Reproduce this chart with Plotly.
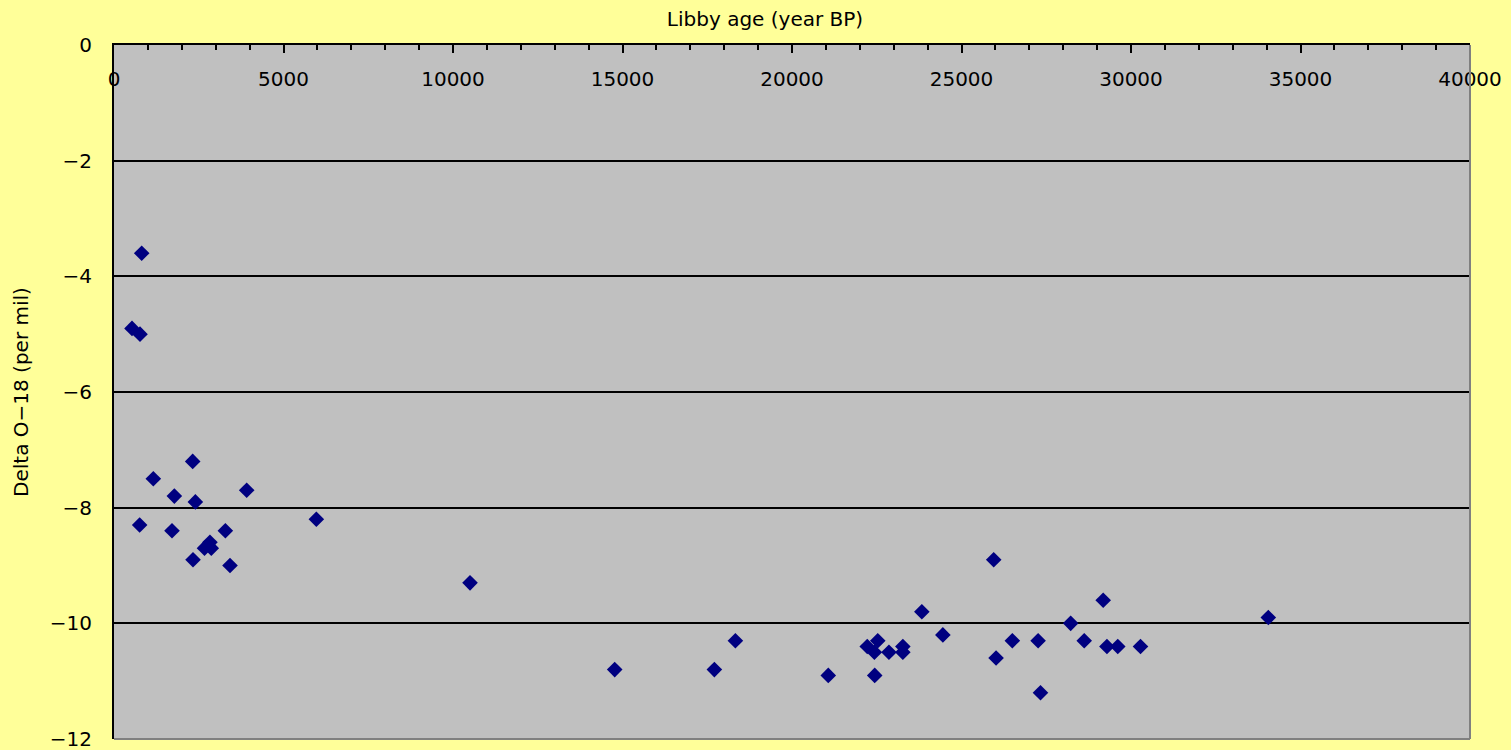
import plotly.graph_objects as go

libby_age = [531, 767, 817, 1160, 2321, 1780, 2400, 3914, 757, 1711, 3285, 5969,
             2670, 2830, 2870, 2331, 3422, 10502,
             14770, 17710, 18330, 21070, 23830, 24450,
             22220, 22530, 22430, 22860, 23270, 23270, 22440,
             25950, 29180, 28220, 26500, 27260, 28620, 26020, 29290, 29610, 30280,
             27330, 34050]
delta_o18 = [-4.9, -5.0, -3.6, -7.5, -7.2, -7.8, -7.9, -7.7, -8.3, -8.4, -8.4, -8.2,
             -8.7, -8.6, -8.7, -8.9, -9.0, -9.3,
             -10.8, -10.8, -10.3, -10.9, -9.8, -10.2,
             -10.4, -10.3, -10.5, -10.5, -10.4, -10.5, -10.9,
             -8.9, -9.6, -10.0, -10.3, -10.3, -10.3, -10.6, -10.4, -10.4, -10.4,
             -11.2, -9.9]

x_ticks = [0, 5000, 10000, 15000, 20000, 25000, 30000, 35000, 40000]
y_ticks = [0, -2, -4, -6, -8, -10, -12]
y_tick_text = ["0", "\u22122", "\u22124", "\u22126", "\u22128", "\u221210", "\u221212"]

FONT = "DejaVu Sans"

fig = go.Figure()
fig.add_trace(go.Scatter(
    x=libby_age, y=delta_o18, mode="markers",
    marker=dict(symbol="diamond", size=12, color="#000080",
                line=dict(width=0)),
    showlegend=False, cliponaxis=False,
))

fig.update_layout(
    width=1511, height=750,
    paper_bgcolor="#FFFF99", plot_bgcolor="#C0C0C0",
    margin=dict(l=114, r=41, t=45, b=11),
    font=dict(family=FONT, size=20, color="#000000"),
    title=dict(text="Libby age (year BP)", x=765 / 1511, xref="container",
               xanchor="center", y=1 - 19 / 750, yref="container",
               yanchor="middle",
               font=dict(family=FONT, size=20, color="#000000")),
    xaxis=dict(
        side="top", range=[0, 40000], tickvals=x_ticks,
        ticktext=[str(v) for v in x_ticks],
        ticks="inside", ticklen=8, tickwidth=2, tickcolor="#000000",
        ticklabelposition="inside", ticklabeloverflow="allow",
        ticklabelstandoff=20,
        minor=dict(dtick=1000, ticks="inside", ticklen=5, tickwidth=2,
                   tickcolor="#000000", showgrid=False),
        showgrid=False, zeroline=False,
        showline=True, linecolor="#000000", linewidth=2,
        automargin=False,
        tickfont=dict(family=FONT, size=20, color="#000000"),
    ),
    yaxis=dict(
        range=[-12, 0], tickvals=y_ticks, ticktext=y_tick_text,
        showgrid=True, gridcolor="#000000", gridwidth=2,
        zeroline=False, showline=True, linecolor="#000000", linewidth=2,
        ticks="", ticklabelstandoff=16, ticklabeloverflow="allow",
        title=dict(text="Delta O\u221218 (per mil)", standoff=16,
                   font=dict(family=FONT, size=20, color="#000000")),
        automargin=False,
        tickfont=dict(family=FONT, size=20, color="#000000"),
    ),
    shapes=[
        dict(type="line", xref="paper", yref="paper", x0=0, x1=1, y0=0, y1=0,
             line=dict(color="#808080", width=2), layer="above"),
        dict(type="line", xref="paper", yref="paper", x0=1, x1=1, y0=0, y1=1,
             line=dict(color="#808080", width=2), layer="above"),
    ],
)

fig.write_html("out.html", config={"displayModeBar": False},
               post_script="document.body.style.margin='0';")
